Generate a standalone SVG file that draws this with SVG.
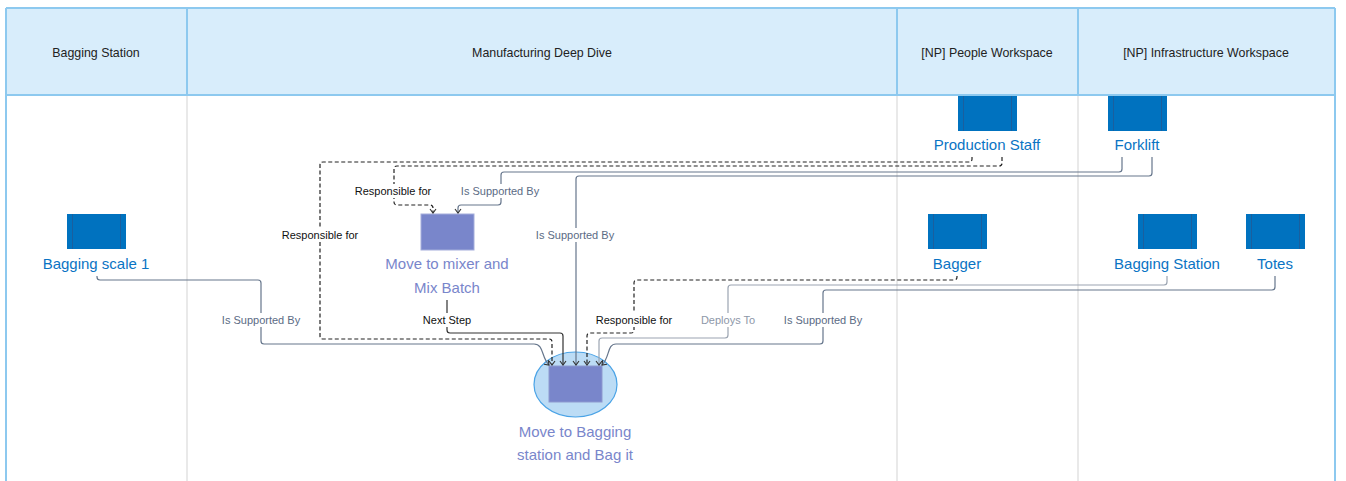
<svg xmlns="http://www.w3.org/2000/svg" width="1346" height="481" viewBox="0 0 1346 481">
<style>
.hdr{font-family:"Liberation Sans",Arial,sans-serif;font-size:12.4px;fill:#222;text-anchor:middle}
.nl{font-family:"Liberation Sans",Arial,sans-serif;font-size:15px;fill:#0a74c4;text-anchor:middle}
.pl{font-family:"Liberation Sans",Arial,sans-serif;font-size:15px;fill:#7986cb;text-anchor:middle}
.cl{font-family:"Liberation Sans",Arial,sans-serif;font-size:11px;text-anchor:middle}
.blk{fill:#111}
.sup{fill:#5b6b84}
.dep{fill:#8d97a8}
.c{fill:none;stroke-width:1.2}
.dash{stroke:#222;stroke-dasharray:4 2.5}
.solidk{stroke:#333}
.gs{stroke:#66768c}
.gl{stroke:#9ba4b1}
.icon{fill:#0072bf}
.icl{stroke:#1a5f9e;stroke-width:1}
.lb{fill:#fff}
</style>
<defs>
<marker id="ah" viewBox="-5 -5 10 10" markerWidth="10" markerHeight="10" markerUnits="userSpaceOnUse" orient="auto" refX="0" refY="0">
<path d="M-4,-3 L0,0 L-4,3" fill="none" stroke="#333" stroke-width="1.1"/>
</marker>
</defs>
<rect x="0" y="0" width="1346" height="481" fill="#fff"/>
<g id="lanes">
<rect x="6" y="8" width="1329" height="87" fill="#d8edfb"/>
<line x1="187" y1="95" x2="187" y2="481" stroke="#dadada" stroke-width="1.2"/>
<line x1="897" y1="95" x2="897" y2="481" stroke="#dadada" stroke-width="1.2"/>
<line x1="1078" y1="95" x2="1078" y2="481" stroke="#dadada" stroke-width="1.2"/>
<g stroke="#8dc9ef" stroke-width="2" fill="none">
<line x1="6" y1="8" x2="1335" y2="8"/>
<line x1="6" y1="95" x2="1335" y2="95"/>
<line x1="6" y1="8" x2="6" y2="481"/>
<line x1="1335" y1="8" x2="1335" y2="481"/>
<line x1="187" y1="8" x2="187" y2="95"/>
<line x1="897" y1="8" x2="897" y2="95"/>
<line x1="1078" y1="8" x2="1078" y2="95"/>
</g>
<text class="hdr" x="96" y="57">Bagging Station</text>
<text class="hdr" x="542" y="57">Manufacturing Deep Dive</text>
<text class="hdr" x="987" y="57">[NP] People Workspace</text>
<text class="hdr" x="1206" y="57">[NP] Infrastructure Workspace</text>
</g>
<g id="node-production-staff">
<rect class="icon" x="958" y="96" width="59" height="35"/>
<line class="icl" x1="963.5" y1="96" x2="963.5" y2="131"/><line class="icl" x1="1011.5" y1="96" x2="1011.5" y2="131"/>
<text class="nl" x="987" y="150">Production Staff</text>
</g>
<g id="node-forklift">
<rect class="icon" x="1108" y="96" width="59" height="35"/>
<line class="icl" x1="1113.5" y1="96" x2="1113.5" y2="131"/><line class="icl" x1="1161.5" y1="96" x2="1161.5" y2="131"/>
<text class="nl" x="1137" y="150">Forklift</text>
</g>
<g id="node-bagging-scale-1">
<rect class="icon" x="67" y="214" width="59" height="35"/>
<line class="icl" x1="72.5" y1="214" x2="72.5" y2="249"/><line class="icl" x1="120.5" y1="214" x2="120.5" y2="249"/>
<text class="nl" x="96" y="269">Bagging scale 1</text>
</g>
<g id="node-bagger">
<rect class="icon" x="928" y="214" width="59" height="35"/>
<line class="icl" x1="933.5" y1="214" x2="933.5" y2="249"/><line class="icl" x1="981.5" y1="214" x2="981.5" y2="249"/>
<text class="nl" x="957" y="269">Bagger</text>
</g>
<g id="node-bagging-station">
<rect class="icon" x="1138" y="214" width="59" height="35"/>
<line class="icl" x1="1143.5" y1="214" x2="1143.5" y2="249"/><line class="icl" x1="1191.5" y1="214" x2="1191.5" y2="249"/>
<text class="nl" x="1167" y="269">Bagging Station</text>
</g>
<g id="node-totes">
<rect class="icon" x="1246" y="214" width="59" height="35"/>
<line class="icl" x1="1251.5" y1="214" x2="1251.5" y2="249"/><line class="icl" x1="1299.5" y1="214" x2="1299.5" y2="249"/>
<text class="nl" x="1275" y="269">Totes</text>
</g>
<g id="node-move-to-mixer">
<rect x="421" y="214" width="53" height="36" fill="#7986cb" stroke="#a5aedb" stroke-width="1"/>
<text class="pl" x="447" y="269">Move to mixer and</text>
<text class="pl" x="447" y="293">Mix Batch</text>
</g>
<g id="node-move-to-bagging">
<ellipse cx="575.5" cy="384.5" rx="41.5" ry="32.5" fill="#bcdcf5" stroke="#4aa3e6" stroke-width="1.2"/>
<rect x="549" y="366" width="53" height="36" fill="#7986cb" stroke="#8e99cf" stroke-width="1"/>
<text class="pl" x="575" y="437">Move to Bagging</text>
<text class="pl" x="575" y="460">station and Bag it</text>
</g>
<g id="connectors">
<path class="c dash" d="M972,157 V159 Q972,162 969,162 H323 Q320,162 320,165 V336 Q320,339 323,339 H549 Q552,339 552,342 V365" marker-end="url(#ah)"/>
<path class="c dash" d="M1002,157 V163 Q1002,166 999,166 H397 Q394,166 394,169 V202 Q394,205 397,205 H430 Q433,205 433,208 V213" marker-end="url(#ah)"/>
<path class="c gs" d="M1122,157 V169 Q1122,172 1119,172 H504 Q501,172 501,175 V202 Q501,205 498,205 H461 Q458,205 458,208 V213" marker-end="url(#ah)"/>
<path class="c gs" d="M1152,157 V173 Q1152,176 1149,176 H579 Q576,176 576,179 V365" marker-end="url(#ah)"/>
<path class="c gs" d="M97,276 V277 Q97,280 100,280 H258 Q261,280 261,283 V341 Q261,344 264,344 H534 C544,344 541,357 549,365" marker-end="url(#ah)"/>
<path class="c solidk" d="M447,300 V330 Q447,333 450,333 H560 Q563,333 563,336 V365" marker-end="url(#ah)"/>
<path class="c dash" d="M957,276 V277 Q957,280 954,280 H637 Q634,280 634,283 V330 Q634,333 631,333 H590 Q587,333 587,336 V365" marker-end="url(#ah)"/>
<path class="c gl" d="M1167,276 V282 Q1167,285 1164,285 H731 Q728,285 728,288 V335 Q728,338 725,338 H602 Q599,338 599,341 V365" marker-end="url(#ah)"/>
<path class="c gs" d="M1275,276 V287 Q1275,290 1272,290 H826 Q823,290 823,293 V341 Q823,344 820,344 H616 C607,344 610,357 602,365" marker-end="url(#ah)"/>
<rect class="lb" x="277" y="228" width="86" height="14"/>
<text class="cl blk" x="320" y="239">Responsible for</text>
<rect class="lb" x="350" y="184" width="87" height="14"/>
<text class="cl blk" x="393" y="195">Responsible for</text>
<rect class="lb" x="457" y="184" width="87" height="14"/>
<text class="cl sup" x="500" y="195">Is Supported By</text>
<rect class="lb" x="532" y="228" width="87" height="14"/>
<text class="cl sup" x="575" y="239">Is Supported By</text>
<rect class="lb" x="218" y="313" width="87" height="14"/>
<text class="cl sup" x="261" y="324">Is Supported By</text>
<rect class="lb" x="419" y="313" width="56" height="14"/>
<text class="cl blk" x="447" y="324">Next Step</text>
<rect class="lb" x="591" y="313" width="86" height="14"/>
<text class="cl blk" x="634" y="324">Responsible for</text>
<rect class="lb" x="698" y="313" width="60" height="14"/>
<text class="cl dep" x="728" y="324">Deploys To</text>
<rect class="lb" x="780" y="313" width="87" height="14"/>
<text class="cl sup" x="823" y="324">Is Supported By</text>
</g>
</svg>
